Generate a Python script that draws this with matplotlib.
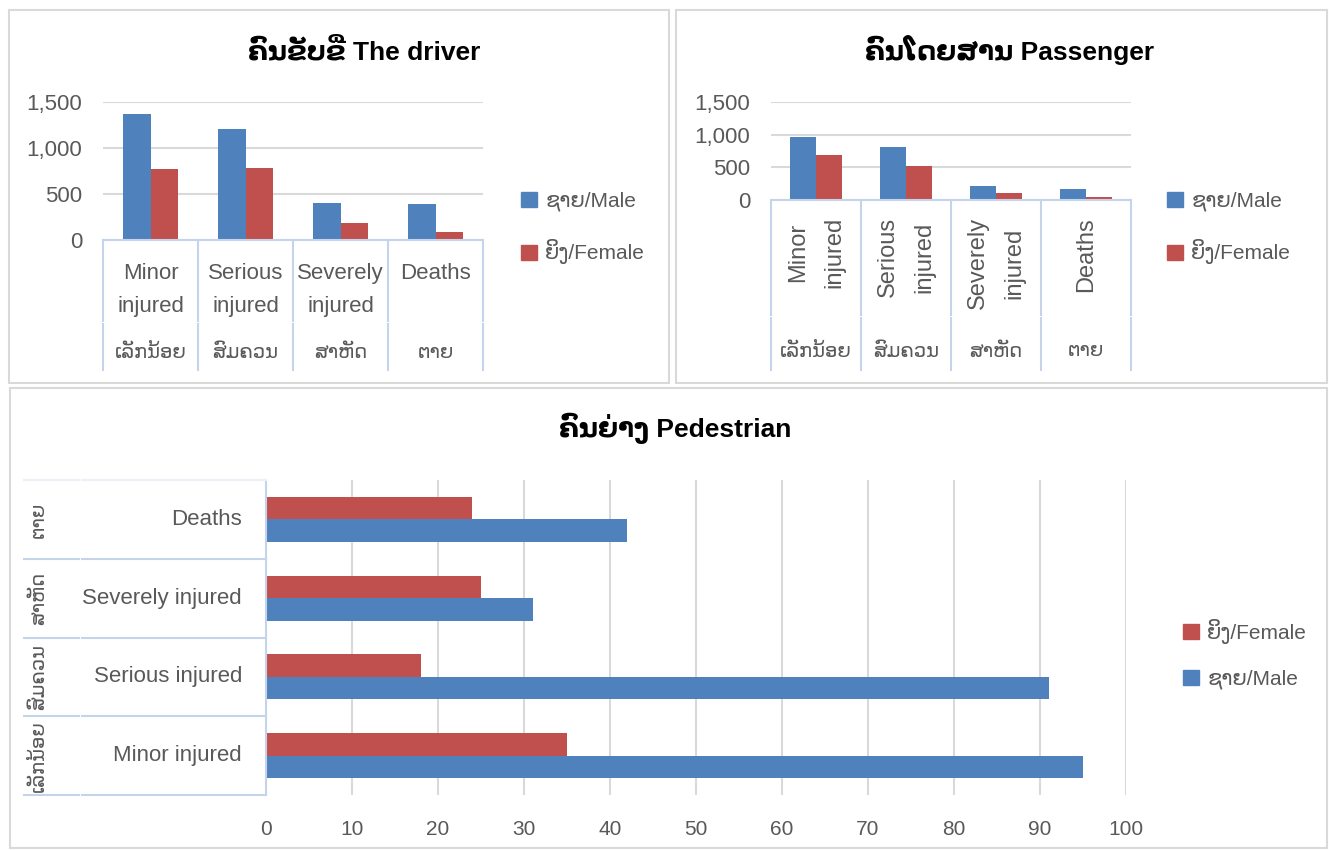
import numpy as np
import matplotlib
matplotlib.use("Agg")
import matplotlib.pyplot as plt
from matplotlib.patches import Rectangle, Patch
from matplotlib.ticker import FuncFormatter

# ---------------- data ----------------
categories_en = ["Minor injured", "Serious injured", "Severely injured", "Deaths"]
categories_lo = ["ເລັກນ້ອຍ", "ສົມຄວນ", "ສາຫັດ", "ຕາຍ"]
series_names = ["ຊາຍ/Male", "ຍິງ/Female"]
titles = ["ຄົນຂັບຂີ່ The driver", "ຄົນໂດຍສານ Passenger", "ຄົນຍ່າງ Pedestrian"]

driver_male = [1365, 1205, 400, 387]
driver_female = [768, 779, 180, 88]
passenger_male = [967, 812, 212, 176]
passenger_female = [687, 517, 109, 47]
pedestrian_male = [95, 91, 31, 42]
pedestrian_female = [35, 18, 25, 24]

col_yticks = [0, 500, 1000, 1500]
bar_xticks = list(range(0, 101, 10))

# ---------------- style ----------------
W, H = 1329, 850
BLUE = "#4F81BD"
RED = "#C0504D"
GRID = "#D9D9D9"
AXC = "#C5D4EA"
TXT = "#595959"
FONT = ["Liberation Sans", "DejaVu Sans"]
plt.rcParams["font.family"] = FONT

fig = plt.figure(figsize=(W / 100, H / 100), dpi=100)


def rect(x0, y0, x1, y1):
    return [x0 / W, 1 - y1 / H, (x1 - x0) / W, (y1 - y0) / H]


# panel borders
for (x0, y0, x1, y1) in [(9, 10, 669, 383), (676, 10, 1327, 383), (10, 388, 1327, 848)]:
    fig.add_artist(Rectangle((x0 / W, 1 - y1 / H), (x1 - x0) / W, (y1 - y0) / H,
                             transform=fig.transFigure, fill=False, ec=GRID, lw=1.5))

comma = FuncFormatter(lambda v, p: f"{int(v):,}")
bw = 1 / 3.5


def column_chart(box, male, female, title, title_xy, table_bottom, gap_y,
                 rotated, en_y, lo_y, legend_xy, ypad):
    ax = fig.add_axes(rect(*box))
    x = np.arange(len(categories_en))
    ax.bar(x - bw / 2, male, bw, color=BLUE, label=series_names[0], zorder=3)
    ax.bar(x + bw / 2, female, bw, color=RED, label=series_names[1], zorder=3)
    ax.set_xlim(-0.5, len(categories_en) - 0.5)
    ax.set_ylim(col_yticks[0], col_yticks[-1])
    ax.set_yticks(col_yticks)
    ax.yaxis.set_major_formatter(comma)
    ax.grid(axis="y", color=GRID, lw=1.5, zorder=0)
    ax.set_axisbelow(True)
    for s in ["top", "right", "left"]:
        ax.spines[s].set_visible(False)
    ax.spines["bottom"].set_color(AXC)
    ax.spines["bottom"].set_linewidth(1.5)
    ax.spines["bottom"].set_zorder(4)
    ax.set_xticks([])
    ax.tick_params(axis="y", length=0, labelsize=16, labelcolor=TXT, pad=ypad)
    ax.patch.set_alpha(0)

    # category table below
    tab = fig.add_axes(rect(box[0], box[3], box[2], table_bottom))
    tab.set_xlim(-0.5, len(categories_en) - 0.5)
    tab.set_ylim(table_bottom, box[3])
    tab.axis("off")
    for xb in np.arange(-0.5, len(categories_en)):
        tab.plot([xb, xb], [box[3], gap_y - 1.5], color=AXC, lw=1.5, clip_on=False)
        tab.plot([xb, xb], [gap_y + 1.5, table_bottom], color=AXC, lw=1.5, clip_on=False)
    for i, (en, lo) in enumerate(zip(categories_en, categories_lo)):
        if rotated:
            tab.text(i, en_y, en.replace(" ", "\n"), rotation=90, ha="center", va="top",
                     multialignment="center", fontsize=17, color=TXT, linespacing=1.85)
        else:
            tab.text(i, en_y, en.replace(" ", "\n"), ha="center", va="top",
                     multialignment="center", fontsize=16, color=TXT, linespacing=1.75)
        tab.text(i, lo_y, lo, ha="center", va="center", fontsize=14, color=TXT)

    fig.text(title_xy[0] / W, 1 - title_xy[1] / H, title, ha="center", va="center",
             fontsize=19, fontweight="bold", color="black")
    handles = [Patch(color=BLUE), Patch(color=RED)]
    fig.legend(handles, series_names, loc="center left",
               bbox_to_anchor=(legend_xy[0] / W, 1 - legend_xy[1] / H),
               frameon=False, fontsize=15, labelcolor=TXT, handlelength=0.75,
               handleheight=0.75, handletextpad=0.4, labelspacing=1.35, borderpad=0)


column_chart((103, 102, 483, 240), driver_male, driver_female, titles[0], (364, 51),
             370, 322, False, 263, 353, (511, 228), 15)
column_chart((771, 102, 1131, 200), passenger_male, passenger_female, titles[1], (1010, 50),
             370, 316, True, 217, 352, (1157, 228), 15)

# ---------------- pedestrian ----------------
box = (266, 480, 1126, 795)
ax = fig.add_axes(rect(*box))
y = np.arange(len(categories_en))
ax.barh(y - bw / 2, pedestrian_male, bw, color=BLUE, label=series_names[0], zorder=3)
ax.barh(y + bw / 2, pedestrian_female, bw, color=RED, label=series_names[1], zorder=3)
ax.set_ylim(-0.5, len(categories_en) - 0.5)
ax.set_xlim(bar_xticks[0], bar_xticks[-1])
ax.set_xticks(bar_xticks)
ax.grid(axis="x", color=GRID, lw=1.5, zorder=0)
ax.set_axisbelow(True)
for s in ["top", "right", "bottom"]:
    ax.spines[s].set_visible(False)
ax.spines["left"].set_color(AXC)
ax.spines["left"].set_linewidth(1.5)
ax.spines["left"].set_zorder(4)
ax.set_yticks([])
ax.tick_params(axis="x", length=0, labelsize=15, labelcolor=TXT, pad=18)
ax.patch.set_alpha(0)

tab = fig.add_axes(rect(24, box[1], box[0], box[3]))
tab.set_ylim(-0.5, len(categories_en) - 0.5)
tab.set_xlim(24, box[0])
tab.axis("off")
for k, yb in enumerate(np.arange(-0.5, len(categories_en))):
    c = "#EAF0F8" if k == len(categories_en) else AXC
    tab.plot([24, 79], [yb, yb], color=c, lw=1.5, clip_on=False)
    tab.plot([82, box[0]], [yb, yb], color=c, lw=1.5, clip_on=False)
for i, (en, lo) in enumerate(zip(categories_en, categories_lo)):
    tab.text(242, i, en, ha="right", va="center", fontsize=16, color=TXT)
    tab.text(39, i, lo, ha="center", va="center", rotation=90, fontsize=14, color=TXT)

fig.text(675 / W, 1 - 428 / H, titles[2], ha="center", va="center",
         fontsize=19, fontweight="bold", color="black")
handles = [Patch(color=RED), Patch(color=BLUE)]
fig.legend(handles, [series_names[1], series_names[0]], loc="center left",
           bbox_to_anchor=(1173 / W, 1 - 654 / H), frameon=False, fontsize=15,
           labelcolor=TXT, handlelength=0.75, handleheight=0.75, handletextpad=0.4,
           labelspacing=1.25, borderpad=0)

fig.savefig("out.png", dpi=100)
